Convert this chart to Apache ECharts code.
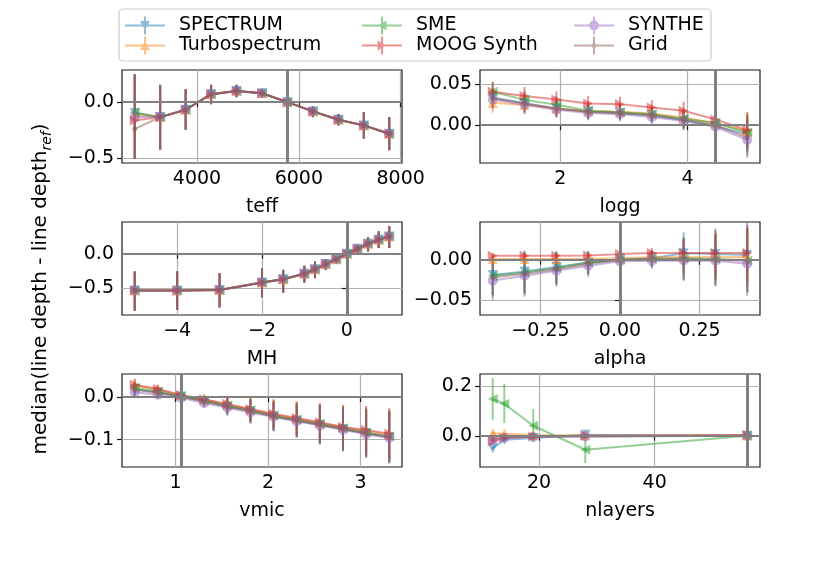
<!DOCTYPE html>
<html><head><meta charset="utf-8">
<script src="https://cdn.jsdelivr.net/npm/echarts@6/dist/echarts.min.js"></script>
<style>html,body{margin:0;padding:0;background:#fff}#c{width:830px;height:586px}</style>
</head><body><div id="c"></div>
<script>
// ---------------- DATA ----------------
const seriesNames = ['SPECTRUM', 'Turbospectrum', 'SME', 'MOOG Synth', 'SYNTHE', 'Grid'];

// teff panel
const teffX = [2777, 3277, 3777, 4277, 4777, 5277, 5777, 6277, 6777, 7277, 7777];
const teffSPECTRUM = [-0.098, -0.134, -0.068, 0.071, 0.100, 0.080, 0.000, -0.083, -0.158, -0.208, -0.283];
const teffTurbospectrum = [-0.110, -0.134, -0.068, 0.071, 0.100, 0.080, 0.000, -0.083, -0.158, -0.208, -0.283];
const teffSME = [-0.092, -0.134, -0.068, 0.071, 0.100, 0.080, 0.000, -0.083, -0.158, -0.208, -0.283];
const teffMOOG = [-0.164, -0.134, -0.068, 0.071, 0.100, 0.080, 0.000, -0.083, -0.158, -0.208, -0.283];
const teffSYNTHE = [-0.134, -0.134, -0.068, 0.071, 0.100, 0.080, 0.000, -0.083, -0.158, -0.208, -0.283];
const teffGrid = [-0.240, -0.134, -0.068, 0.071, 0.100, 0.080, 0.000, -0.083, -0.158, -0.208, -0.283];
const teffErrLow = [-0.507, -0.425, -0.247, -0.018, 0.045, 0.045, -0.004, -0.134, -0.208, -0.327, -0.430];
const teffErrHigh = [0.250, 0.155, 0.116, 0.155, 0.155, 0.116, 0.004, -0.040, -0.107, -0.090, -0.134];

// logg panel
const loggX = [0.94, 1.44, 1.94, 2.44, 2.94, 3.44, 3.94, 4.44, 4.94];
const loggSPECTRUM = [0.034, 0.027, 0.0205, 0.0164, 0.015, 0.0123, 0.006, -0.001, -0.011];
const loggTurbospectrum = [0.0275, 0.0246, 0.0205, 0.017, 0.0164, 0.0143, 0.0094, 0.002, -0.007];
const loggSME = [0.041, 0.031, 0.025, 0.018, 0.016, 0.0135, 0.008, 0.003, -0.009];
const loggMOOG = [0.041, 0.0357, 0.0316, 0.0266, 0.0258, 0.0217, 0.0176, 0.007, -0.006];
const loggSYNTHE = [0.0316, 0.025, 0.019, 0.015, 0.0135, 0.010, 0.005, -0.002, -0.018];
const loggGrid = [0.033, 0.0266, 0.0205, 0.0164, 0.015, 0.0123, 0.007, 0.000, -0.015];
const loggErr = [0.012, 0.011, 0.010, 0.009, 0.009, 0.009, 0.011, 0.008, 0.022];

// MH panel
const mhX = [-5, -4, -3, -2, -1.5, -1, -0.75, -0.5, -0.25, 0, 0.25, 0.5, 0.75, 1];
const mhMedian = [-0.534, -0.534, -0.524, -0.417, -0.369, -0.291, -0.223, -0.150, -0.078, 0.000, 0.073, 0.146, 0.204, 0.252];
const mhErrLow = [-0.827, -0.816, -0.777, -0.631, -0.563, -0.417, -0.354, -0.233, -0.126, -0.004, 0.010, 0.034, 0.083, 0.083];
const mhErrHigh = [-0.257, -0.257, -0.280, -0.209, -0.233, -0.175, -0.112, -0.078, -0.039, 0.004, 0.131, 0.243, 0.325, 0.400];

// alpha panel
const alphaX = [-0.4, -0.3, -0.2, -0.1, 0.0, 0.1, 0.2, 0.3, 0.4];
const alphaSPECTRUM = [-0.019, -0.0146, -0.009, -0.0033, 0.000, 0.002, 0.008, 0.007, 0.006];
const alphaTurbospectrum = [0.001, 0.001, 0.001, 0.001, 0.002, 0.003, 0.003, 0.003, 0.003];
const alphaSME = [-0.020, -0.0158, -0.0104, -0.0033, 0.000, 0.0008, 0.002, 0.0008, -0.0008];
const alphaMOOG = [0.005, 0.005, 0.005, 0.0054, 0.007, 0.0083, 0.0083, 0.0083, 0.0083];
const alphaSYNTHE = [-0.026, -0.020, -0.0138, -0.0075, -0.002, -0.0013, -0.0008, -0.0013, -0.005];
const alphaGrid = [-0.022, -0.0175, -0.0117, -0.005, 0.000, 0.0008, 0.0008, 0.000, -0.0008];
const alphaErrWide = [0.024, 0.026, 0.020, 0.014, 0.004, 0.010, 0.026, 0.032, 0.040];
const alphaErrNarrow = [0.003, 0.003, 0.003, 0.003, 0.003, 0.006, 0.018, 0.028, 0.035];

// vmic panel
const vmicX = [0.56, 0.81, 1.06, 1.31, 1.56, 1.81, 2.06, 2.31, 2.56, 2.81, 3.06, 3.31];
const vmicSPECTRUM = [0.018, 0.011, 0.001, -0.010, -0.022, -0.033, -0.045, -0.055, -0.065, -0.075, -0.085, -0.094];
const vmicTurbospectrum = [0.027, 0.017, 0.004, -0.006, -0.018, -0.029, -0.041, -0.051, -0.061, -0.071, -0.080, -0.089];
const vmicSME = [0.022, 0.013, 0.002, -0.008, -0.020, -0.031, -0.043, -0.053, -0.063, -0.073, -0.083, -0.092];
const vmicMOOG = [0.029, 0.019, 0.005, -0.005, -0.016, -0.028, -0.039, -0.049, -0.059, -0.070, -0.077, -0.086];
const vmicSYNTHE = [0.011, 0.0055, -0.002, -0.014, -0.025, -0.036, -0.047, -0.057, -0.067, -0.077, -0.087, -0.096];
const vmicGrid = [0.017, 0.010, 0.001, -0.010, -0.022, -0.033, -0.045, -0.055, -0.065, -0.075, -0.085, -0.094];
const vmicErr = [0.014, 0.010, 0.002, 0.011, 0.019, 0.027, 0.034, 0.039, 0.045, 0.051, 0.056, 0.060];

// nlayers panel
const nlX = [12, 14, 19, 28, 56];
const nlSPECTRUM = [-0.050, -0.016, -0.009, 0.004, 0.000];
const nlTurbospectrum = [0.010, 0.008, 0.003, 0.002, 0.001];
const nlSME = [0.147, 0.128, 0.040, -0.056, 0.000];
const nlMOOG = [-0.023, -0.009, -0.003, 0.000, 0.003];
const nlSYNTHE = [-0.016, -0.009, -0.005, -0.003, 0.000];
const nlGrid = [-0.013, -0.005, -0.003, -0.003, 0.000];
const nlErrSmall = [0.006, 0.005, 0.004, 0.003, 0.002];
const nlErrSMELow = [0.083, 0.077, 0.043, 0.053, 0.002];
const nlErrSMEHigh = [0.084, 0.080, 0.067, 0.040, 0.002];

// ---------------- STYLE ----------------
const FONT = 'DejaVu Sans';
const FS = 19;
const colors = ['#1f77b4', '#ff7f0e', '#2ca02c', '#d62728', '#9467bd', '#8c564b'];
const symbols = ['triangle', 'triangle', 'triangle', 'triangle', 'circle', 'circle'];
const rotations = [180, 0, 90, -90, 0, 0];
const symSizes = [10, 10, 10, 10, 10, 5];

const panels = [
  { name: 'teff', x: teffX, ys: [teffSPECTRUM, teffTurbospectrum, teffSME, teffMOOG, teffSYNTHE, teffGrid],
    err: (k, i, y) => [teffErrLow[i], teffErrHigh[i]],
    xmin: 2527, xmax: 8027, xticks: [4000, 6000, 8000], xdec: 0,
    ymin: -0.545, ymax: 0.288, yticks: [-0.5, 0], ydec: 1, ref: 5777 },
  { name: 'logg', x: loggX, ys: [loggSPECTRUM, loggTurbospectrum, loggSME, loggMOOG, loggSYNTHE, loggGrid],
    err: (k, i, y) => [y - loggErr[i], y + loggErr[i]],
    xmin: 0.74, xmax: 5.14, xticks: [2, 4], xdec: 0,
    ymin: -0.0463, ymax: 0.0676, yticks: [0, 0.05], ydec: 2, ref: 4.44 },
  { name: 'MH', x: mhX, ys: [mhMedian, mhMedian, mhMedian, mhMedian, mhMedian, mhMedian],
    err: (k, i, y) => [mhErrLow[i], mhErrHigh[i]],
    xmin: -5.3, xmax: 1.3, xticks: [-4, -2, 0], xdec: 0,
    ymin: -0.888, ymax: 0.461, yticks: [-0.5, 0], ydec: 1, ref: 0 },
  { name: 'alpha', x: alphaX, ys: [alphaSPECTRUM, alphaTurbospectrum, alphaSME, alphaMOOG, alphaSYNTHE, alphaGrid],
    err: (k, i, y) => { const e = (k === 1 || k === 3) ? alphaErrNarrow[i] : alphaErrWide[i]; return [y - e, y + e]; },
    xmin: -0.44, xmax: 0.44, xticks: [-0.25, 0, 0.25], xdec: 2,
    ymin: -0.0688, ymax: 0.047, yticks: [-0.05, 0], ydec: 2, ref: 0 },
  { name: 'vmic', x: vmicX, ys: [vmicSPECTRUM, vmicTurbospectrum, vmicSME, vmicMOOG, vmicSYNTHE, vmicGrid],
    err: (k, i, y) => [y - vmicErr[i], y + vmicErr[i]],
    xmin: 0.4225, xmax: 3.4475, xticks: [1, 2, 3], xdec: 0,
    ymin: -0.164, ymax: 0.054, yticks: [-0.1, 0], ydec: 1, ref: 1.06 },
  { name: 'nlayers', x: nlX, ys: [nlSPECTRUM, nlTurbospectrum, nlSME, nlMOOG, nlSYNTHE, nlGrid],
    err: (k, i, y) => k === 2 ? [y - nlErrSMELow[i], y + nlErrSMEHigh[i]] : [y - nlErrSmall[i], y + nlErrSmall[i]],
    xmin: 9.8, xmax: 58.2, xticks: [20, 40], xdec: 0,
    ymin: -0.125, ymax: 0.247, yticks: [0, 0.2], ydec: 1, ref: 56 }
];

const colLeft = [122, 480];
const rowTop = [70, 222, 374];
const fmt = dec => v => v.toFixed(dec).replace('-', '\u2212');

const grids = [], xAxes = [], yAxes = [], series = [];
panels.forEach((P, p) => {
  grids.push({ left: colLeft[p % 2], top: rowTop[Math.floor(p / 2)], width: 280, height: 93,
    show: true, borderColor: '#1a1a1a', borderWidth: 1.2, backgroundColor: 'transparent' });
  xAxes.push({ type: 'value', gridIndex: p, min: P.xmin, max: P.xmax,
    name: P.name, nameLocation: 'middle', nameGap: 35,
    nameTextStyle: { fontFamily: FONT, fontSize: FS, color: '#000' },
    axisLine: { show: false },
    axisTick: { show: true, length: 5, customValues: P.xticks, lineStyle: { color: '#1a1a1a', width: 1.2 } },
    axisLabel: { customValues: P.xticks, formatter: fmt(P.xdec), fontFamily: FONT, fontSize: FS, color: '#000', margin: 7 },
    splitLine: { show: true, lineStyle: { color: '#b0b0b0', width: 1.2 } } });
  yAxes.push({ type: 'value', gridIndex: p, min: P.ymin, max: P.ymax,
    axisLine: { show: false },
    axisTick: { show: true, length: 5, customValues: P.yticks, lineStyle: { color: '#1a1a1a', width: 1.2 } },
    axisLabel: { customValues: P.yticks, formatter: fmt(P.ydec), fontFamily: FONT, fontSize: FS, color: '#000', margin: 8 },
    splitLine: { show: true, lineStyle: { color: '#b0b0b0', width: 1.2 } } });
  // reference lines
  series.push({ type: 'line', xAxisIndex: p, yAxisIndex: p, data: [[P.ref, 0]], symbol: 'none', z: 1, silent: true,
    lineStyle: { opacity: 0 },
    markLine: { silent: true, symbol: ['none', 'none'], animation: false, label: { show: false },
      data: [ { yAxis: 0, lineStyle: { color: '#808080', width: 2, type: 'solid' } },
              { xAxis: P.ref, lineStyle: { color: '#808080', width: 3, type: 'solid' } } ] } });
  seriesNames.forEach((nm, k) => {
    const ys = P.ys[k];
    const bars = P.x.map((x, i) => { const e = P.err(k, i, ys[i]); return [x, e[0], e[1]]; });
    const col = colors[k];
    series.push({ type: 'custom', xAxisIndex: p, yAxisIndex: p, data: bars, z: 2, silent: true,
      encode: { x: 0, y: [1, 2] },
      renderItem: (params, api) => {
        const a = api.coord([api.value(0), api.value(1)]);
        const b = api.coord([api.value(0), api.value(2)]);
        return { type: 'line', shape: { x1: a[0], y1: a[1], x2: b[0], y2: b[1] },
          style: { stroke: col, lineWidth: 2, opacity: 0.5 } };
      } });
    series.push({ type: 'line', name: nm, xAxisIndex: p, yAxisIndex: p, z: 2, silent: true,
      data: P.x.map((x, i) => [x, ys[i]]),
      symbol: symbols[k], symbolSize: symSizes[k], symbolRotate: rotations[k], showSymbol: true,
      itemStyle: { color: col, opacity: 0.5 },
      lineStyle: { color: col, width: 2, opacity: 0.5 },
      emphasis: { disabled: true } });
  });
});

// legend icons (error-bar style handle)
const base = 'M0 8 L40 8 L40 10 L0 10 Z M19 0 L21 0 L21 18 L19 18 Z ';
const icons = [
  'path://' + base + 'M15 4.5 L25 4.5 L20 13.5 Z',
  'path://' + base + 'M20 4.5 L25 13.5 L15 13.5 Z',
  'path://' + base + 'M15.5 9 L24.5 4 L24.5 14 Z',
  'path://' + base + 'M24.5 9 L15.5 14 L15.5 4 Z',
  'path://' + base + 'M25 9 A5 5 0 1 1 15 9 A5 5 0 1 1 25 9 Z',
  'path://' + base + 'M22.5 9 A2.5 2.5 0 1 1 17.5 9 A2.5 2.5 0 1 1 22.5 9 Z'
];
const legendCols = [[0, 1], [2, 3], [4, 5]];
const legendLeft = [125, 362, 574];
const legends = legendCols.map((ks, c) => ({
  orient: 'vertical', left: legendLeft[c], top: 16, itemWidth: 40, itemHeight: 18, itemGap: 1,
  selectedMode: false, padding: 0,
  textStyle: { fontFamily: FONT, fontSize: FS, color: '#000', padding: [0, 0, 0, 9] },
  data: ks.map(k => ({ name: seriesNames[k], icon: icons[k], itemStyle: { color: colors[k], opacity: 0.5 } }))
}));

const option = {
  animation: false,
  backgroundColor: '#fff',
  grid: grids, xAxis: xAxes, yAxis: yAxes, series: series, legend: legends,
  graphic: [
    { type: 'rect', z: -1, shape: { x: 119, y: 9, width: 592, height: 52, r: 4 },
      style: { fill: 'rgba(255,255,255,0.8)', stroke: '#cccccc', lineWidth: 1.2 } },
    { type: 'text', x: 41, y: 289, rotation: Math.PI / 2,
      style: { text: '{a|median(line depth - line depth}{s|ref}{a|)}', align: 'center', verticalAlign: 'middle',
        fill: '#000',
        rich: { a: { fontFamily: FONT, fontSize: 20, lineHeight: 26, fill: '#000' },
                s: { fontFamily: FONT, fontSize: 14, fontStyle: 'italic', lineHeight: 14, verticalAlign: 'bottom', fill: '#000' } } } }
  ]
};
const chart = echarts.init(document.getElementById('c'), null, { renderer: 'canvas' });
chart.setOption(option);
</script></body></html>
